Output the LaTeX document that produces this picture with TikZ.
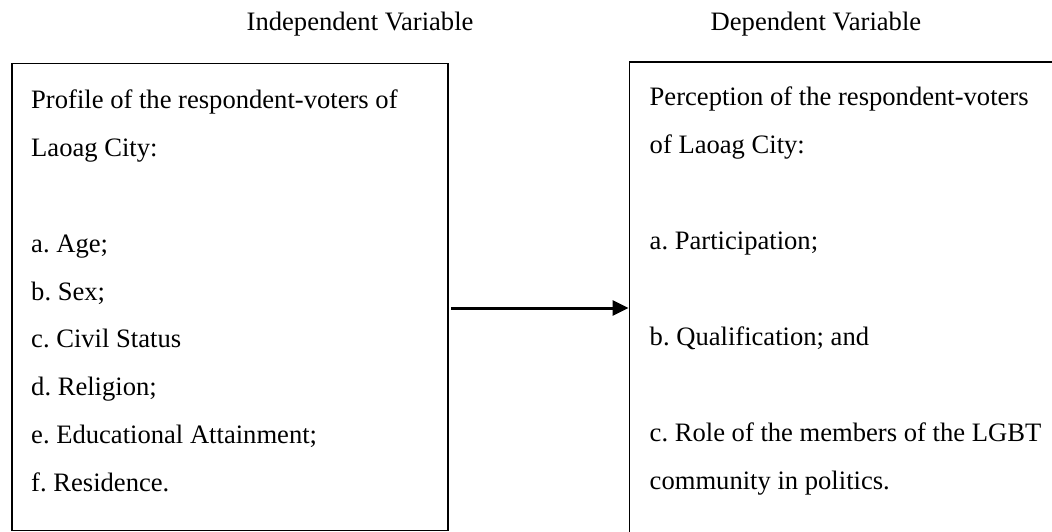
\documentclass[tikz,border=0pt]{standalone}
\usepackage{fontspec}
\setmainfont{Liberation Serif}
\usetikzlibrary{arrows.meta}
\frenchspacing
\tikzset{
  box/.style={draw=black, line width=1.8pt, fill=none, inner sep=0pt, anchor=north west},
  line/.style={anchor=base west, inner sep=0pt, font=\fontsize{26.6}{30}\selectfont},
  head/.style={anchor=base west, inner sep=0pt, font=\fontsize{26.6}{30}\selectfont},
  arr/.style={line width=3pt, -{Triangle[length=16pt,width=15pt]}}
}
\begin{document}
\begin{tikzpicture}[x=1pt,y=-1pt]
\useasboundingbox (0,0) rectangle (1052,531);
\clip (0,0) rectangle (1052,531);
\fill[white] (0,0) rectangle (1052,531);
% headings
\node[head] (hind) at (246.5,30) {Independent Variable};
\node[head] (hdep) at (710.5,30) {Dependent Variable};
% boxes
\node[box, minimum width=436pt, minimum height=467pt] (lbox) at (11,62.5) {};
\node[box, minimum width=500pt, minimum height=520pt] (rbox) at (628.5,61) {};
% left text
\node[line] (l1) at (31,108) {Profile of the respondent-voters of};
\node[line] (l2) at (31,156) {Laoag City:};
\node[line] (la) at (31,252) {a. Age;};
\node[line] (lb) at (31,300) {b. Sex;};
\node[line] (lc) at (31,347.5) {c. Civil Status};
\node[line] (ld) at (31,395.5) {d. Religion;};
\node[line] (le) at (31,443.5) {e. Educational Attainment;};
\node[line] (lf) at (31,491) {f. Residence.};
% right text
\node[line] (r1) at (649.5,105) {Perception of the respondent-voters};
\node[line] (r2) at (649.5,153) {of Laoag City:};
\node[line] (ra) at (649.5,249) {a. Participation;};
\node[line] (rb) at (649.5,345) {b. Qualification; and};
\node[line] (rc) at (649.5,441) {c. Role of the members of the LGBT};
\node[line] (rd) at (649.5,489) {community in politics.};
% arrow
\coordinate (a0) at (451,308);
\draw[arr] (a0) -- (a0 -| rbox.west);
\end{tikzpicture}
\end{document}
